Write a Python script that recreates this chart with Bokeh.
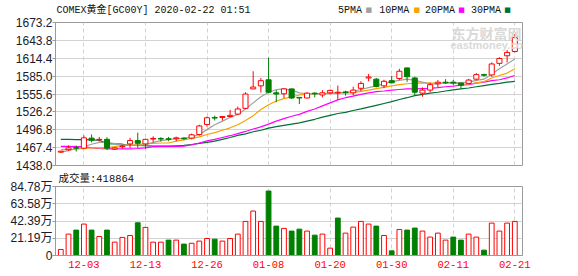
from bokeh.plotting import figure
from bokeh.layouts import column
from bokeh.models import FixedTicker, Label, ColumnDataSource, Range1d
from bokeh.embed import file_html
from bokeh.resources import INLINE

dates = ["11-28", "11-29", "12-02", "12-03", "12-04", "12-05", "12-06", "12-09", "12-10", "12-11",
         "12-12", "12-13", "12-16", "12-17", "12-18", "12-19", "12-20", "12-23", "12-24", "12-26",
         "12-27", "12-30", "12-31", "01-02", "01-03", "01-06", "01-07", "01-08", "01-09", "01-10",
         "01-13", "01-14", "01-15", "01-16", "01-17", "01-20", "01-21", "01-22", "01-23", "01-24",
         "01-27", "01-28", "01-29", "01-30", "01-31", "02-03", "02-04", "02-05", "02-06", "02-07",
         "02-10", "02-11", "02-12", "02-13", "02-14", "02-17", "02-18", "02-19", "02-20", "02-21"]

opens = [1460, 1464, 1467.5, 1466.5, 1483, 1480, 1481, 1465, 1469, 1473.5,
         1479, 1473.5, 1481.5, 1482.5, 1482, 1482, 1483, 1483, 1489, 1505.5,
         1517, 1517, 1518.5, 1522.5, 1532, 1564, 1569, 1579, 1557.5, 1556,
         1564, 1550, 1549, 1557, 1554, 1557.5, 1557.5, 1559, 1557.5, 1565,
         1582, 1580, 1569, 1577.5, 1581, 1598.5, 1582, 1557, 1562, 1572.5,
         1575, 1575, 1573.5, 1573, 1580, 1587.5, 1587, 1606, 1618.5, 1625.5]
highs = [1462, 1471, 1471, 1487.5, 1489, 1485, 1484.5, 1468, 1472, 1483.5,
         1492, 1482, 1486, 1484.5, 1485, 1485.5, 1484.5, 1490.5, 1505, 1518.5,
         1520, 1519, 1529.5, 1535, 1558.5, 1593, 1582, 1615.5, 1562, 1564.5,
         1564.5, 1550.5, 1558.5, 1558.5, 1562, 1563, 1569.5, 1561, 1567.5, 1576.5,
         1588.5, 1582, 1579, 1585.5, 1597, 1599, 1584, 1566.5, 1574.5, 1578.5,
         1580, 1578.5, 1574, 1580.5, 1590, 1589, 1607.5, 1616, 1628, 1654]
lows = [1459, 1462, 1461, 1465, 1476, 1477.5, 1463.5, 1463.5, 1466, 1467,
        1467, 1465.5, 1476, 1477.5, 1478, 1478, 1480, 1481, 1487, 1502,
        1512, 1512, 1517.5, 1521.5, 1531, 1563.5, 1558, 1557, 1542, 1549,
        1547.5, 1539, 1548.5, 1550, 1550, 1555, 1546, 1553, 1553, 1560,
        1576.5, 1566.5, 1565.5, 1573, 1578.5, 1575.5, 1553, 1551, 1558.5, 1566.5,
        1572, 1570.5, 1564, 1572, 1578, 1584, 1584, 1602, 1607.5, 1624]
closes = [1461.5, 1467, 1466.5, 1483.5, 1479.5, 1481, 1466.5, 1467, 1470, 1479,
          1474.5, 1481, 1482.5, 1481.5, 1481, 1483.5, 1482, 1488.5, 1503, 1516.5,
          1516, 1518.5, 1520.5, 1531, 1555.5, 1567, 1577.5, 1558.5, 1555.5, 1564,
          1549, 1549, 1557, 1556, 1557.5, 1561.5, 1558.5, 1558, 1562, 1573,
          1583.5, 1568, 1576.5, 1574, 1593, 1584, 1558.5, 1562, 1571, 1575,
          1574, 1573.5, 1570, 1578.5, 1587.5, 1586.5, 1605, 1614, 1624, 1648.5]

# volume in units of 10,000 (万)
volumes = [7.4, 26.3, 31.2, 38.6, 31.2, 23.4, 31.2, 16.4, 22.2, 24.6,
           40.2, 34.5, 16.4, 16.4, 18.9, 18.9, 14.0, 15.0, 17.7, 20.9,
           20.1, 17.7, 20.9, 26.3, 41.9, 54.6, 41.9, 79.2, 36.1, 33.3,
           30.0, 32.4, 30.0, 25.0, 26.3, 9.0, 46.0, 27.5, 34.9, 41.9,
           38.6, 36.1, 24.6, 5.7, 32.0, 31.2, 33.7, 30.0, 22.6, 27.5,
           18.9, 22.6, 18.9, 26.3, 22.6, 6.6, 39.8, 30.0, 39.8, 41.8864]
vol_up = [1, 1, 0, 1, 0, 1, 0, 1, 1, 1,
          0, 1, 1, 1, 0, 1, 0, 1, 1, 1,
          0, 1, 1, 1, 1, 1, 1, 0, 0, 1,
          0, 0, 1, 0, 1, 1, 0, 1, 1, 1,
          1, 0, 1, 0, 1, 0, 0, 1, 1, 1,
          1, 0, 0, 1, 1, 0, 1, 1, 1, 1]

ma5 = [1460, 1462.5, 1465.5, 1469, 1473, 1476, 1476, 1474, 1472, 1471,
       1471, 1472, 1476, 1479, 1480.5, 1482, 1482.5, 1485, 1489, 1497,
       1505, 1511, 1517, 1522, 1531, 1541, 1551, 1558, 1563, 1564,
       1562, 1557.5, 1556, 1555.5, 1556, 1556.5, 1557.5, 1558.5, 1560, 1563,
       1566, 1569, 1572.5, 1576, 1578, 1580, 1578, 1575, 1572.5, 1572,
       1574.5, 1574.5, 1574.5, 1575, 1578, 1580, 1588, 1597, 1605, 1613]
ma10 = [1464, 1464.5, 1465, 1466, 1467, 1467, 1467, 1469, 1471, 1472,
        1472, 1474, 1474.5, 1475, 1475, 1478, 1480, 1482.5, 1485, 1489,
        1492, 1496, 1500, 1505, 1512, 1520, 1530, 1538, 1544, 1548,
        1551, 1554, 1555, 1556, 1556.5, 1556.5, 1557, 1557, 1558, 1560,
        1562, 1564.5, 1566.5, 1569, 1571, 1572.5, 1573.5, 1574, 1573.5, 1573.5,
        1573.5, 1573.5, 1572.5, 1572, 1574, 1576, 1582, 1586, 1590, 1597]
ma20 = [1469.5, 1469.5, 1469, 1468.5, 1467, 1466, 1465.5, 1465.5, 1465.5, 1465.5,
        1466, 1467, 1469, 1469.5, 1469.5, 1469.5, 1470, 1472, 1475, 1478.5,
        1481, 1484, 1487, 1490.5, 1494, 1498, 1501.5, 1506, 1511, 1515,
        1519, 1522, 1527, 1531, 1536, 1541, 1546, 1549.5, 1552, 1555,
        1557.5, 1559.5, 1560.5, 1562, 1563, 1564, 1564, 1564.5, 1565, 1566,
        1567.5, 1568.5, 1570, 1571, 1573.5, 1575, 1577.5, 1579, 1582, 1586]
ma30 = [1481, 1481, 1480.5, 1480.5, 1480, 1479.5, 1474, 1473.5, 1473, 1471,
        1471, 1470.5, 1470, 1470, 1470, 1470.5, 1471, 1472.5, 1474.5, 1476,
        1478, 1481, 1484, 1487.5, 1490, 1493.5, 1496, 1499.5, 1502, 1504,
        1506, 1508, 1511, 1514, 1517.5, 1520.5, 1523.5, 1525.5, 1528.5, 1531,
        1534, 1537, 1540, 1543, 1546.5, 1549.5, 1553, 1555, 1557, 1558.5,
        1560.5, 1562.5, 1564, 1565.5, 1567.5, 1569.5, 1571.5, 1573, 1575, 1576.5]

price_ticks = [1438.0, 1467.4, 1496.8, 1526.2, 1555.6, 1585.0, 1614.4, 1643.8, 1673.2]
vol_ticks = [0, 21.19, 42.39, 63.58, 84.78]
vol_tick_labels = ["0", "21.19万", "42.39万", "63.58万", "84.78万"]
date_ticks = ["12-03", "12-13", "12-26", "01-08", "01-20", "01-30", "02-11", "02-21"]

title_text = "COMEX黄金[GC00Y] 2020-02-22 01:51"
vol_text = "成交量:418864"
ma_names = ["5PMA", "10PMA", "20PMA", "30PMA"]

RED = "#ff0000"
GREEN = "#008000"
MA_COLORS = ["#a0a0a0", "#f5a300", "#ff00ff", "#006f35"]
GRID = "#d2d2d2"
FRAME = "#9a9a9a"
MONO = "Liberation Mono, Noto Sans CJK SC"
TXT = "#111111"

idx = list(range(len(dates)))
up = [c >= o for o, c in zip(opens, closes)]
csrc = ColumnDataSource(dict(
    x=idx, h=highs, l=lows,
    top=[max(o, c) for o, c in zip(opens, closes)],
    bot=[min(o, c) for o, c in zip(opens, closes)],
    col=[RED if u else GREEN for u in up],
    fill=["#ffffff" if u else GREEN for u in up],
))
vsrc = ColumnDataSource(dict(
    x=idx, v=volumes,
    col=[RED if u else GREEN for u in vol_up],
    fill=["#ffffff" if u else GREEN for u in vol_up],
))
tick_pos = [dates.index(d) for d in date_ticks]

x_range = Range1d(-0.69, 60.0)

# ---------------- header strip (its frame is aligned with the panels below) ----------------
ph = figure(width=578, height=16, x_range=Range1d(0, 467), y_range=Range1d(0, 16),
            x_axis_location=None, y_axis_location=None,
            output_backend="svg", toolbar_location=None,
            min_border_left=55, min_border_right=56, min_border_top=0, min_border_bottom=0)
ph.grid.visible = False
ph.outline_line_color = None
ph.add_layout(Label(x=1, y=6, x_units="screen", y_units="screen", text=title_text,
                    text_font=MONO, text_font_size="10px", text_color=TXT,
                    text_baseline="middle"))
leg_x = [282.5, 323.7, 369.6, 415.6]
sq_x = [310.0, 358.0, 402.7, 448.7]
for name, colr, lx, sx in zip(ma_names, MA_COLORS, leg_x, sq_x):
    ph.add_layout(Label(x=lx, y=6, x_units="screen", y_units="screen", text=name,
                        text_font=MONO, text_font_size="10px", text_color=TXT,
                        text_baseline="middle"))
    ph.add_layout(Label(x=sx, y=6.5, x_units="screen", y_units="screen",
                        text="■", text_font="DejaVu Sans", text_font_size="7px",
                        text_color=colr, text_baseline="middle"))

# ---------------- price panel ----------------
p1 = figure(width=578, height=156, x_range=x_range, y_range=Range1d(1438.0, 1673.2),
            output_backend="svg", toolbar_location=None,
            min_border_left=55, min_border_right=56, min_border_top=6, min_border_bottom=7)
p1.xaxis.visible = False
p1.yaxis.ticker = FixedTicker(ticks=price_ticks)
p1.yaxis.major_label_overrides = {t: f"{t:.1f}" for t in price_ticks}
ax = p1.yaxis[0]
ax.axis_line_color = FRAME
ax.major_tick_line_color = FRAME
ax.major_tick_out = 3
ax.major_tick_in = 0
ax.minor_tick_line_color = None
ax.major_label_standoff = 0
ax.major_label_text_font = "Liberation Sans"
ax.major_label_text_font_size = "12px"
ax.major_label_text_color = "#1a1a2a"
p1.ygrid.ticker = FixedTicker(ticks=price_ticks)
p1.ygrid.grid_line_color = GRID
p1.xgrid.ticker = FixedTicker(ticks=tick_pos)
p1.xgrid.grid_line_color = GRID
p1.xgrid.grid_line_dash = "4 3"
p1.outline_line_color = FRAME

# watermark (inside the frame)
p1.add_layout(Label(x=396, y=133, x_units="screen", y_units="screen", text="东方财富网",
                    text_font="Noto Sans CJK SC", text_font_size="14px",
                    text_font_style="bold", text_color="#d9d9d9", text_baseline="middle"))
p1.add_layout(Label(x=395, y=121, x_units="screen", y_units="screen", text="eastmoney.com",
                    text_font="Liberation Sans", text_font_size="11px",
                    text_font_style="bold", text_color="#d9d9d9", text_baseline="middle"))

for ma, colr in zip([ma30, ma20, ma10, ma5], MA_COLORS[::-1]):
    p1.line(idx, ma, line_color=colr, line_width=1.2)

p1.segment(x0="x", x1="x", y0="l", y1="h", line_color="col", line_width=1, source=csrc)
p1.vbar(x="x", width=0.66, top="top", bottom="bot", fill_color="fill", line_color="col",
        line_width=1, source=csrc)

# ---------------- volume panel ----------------
p2 = figure(width=578, height=104, x_range=x_range, y_range=Range1d(0, 84.78),
            output_backend="svg", toolbar_location=None,
            min_border_left=55, min_border_right=56, min_border_top=14, min_border_bottom=21)
p2.title.text = vol_text
p2.title.align = "left"
p2.title.offset = 3
p2.title.standoff = 0
p2.title.vertical_align = "top"
p2.title.text_baseline = "top"
p2.title.text_font = MONO
p2.title.text_font_size = "10.5px"
p2.title.text_font_style = "normal"
p2.title.text_color = TXT
p2.yaxis.ticker = FixedTicker(ticks=vol_ticks)
p2.yaxis.major_label_overrides = dict(zip(vol_ticks, vol_tick_labels))
ax = p2.yaxis[0]
ax.axis_line_color = FRAME
ax.major_tick_line_color = FRAME
ax.major_tick_out = 3
ax.major_tick_in = 0
ax.minor_tick_line_color = None
ax.major_label_standoff = 0
ax.major_label_text_font = "Liberation Sans, Noto Sans CJK SC"
ax.major_label_text_font_size = "12px"
ax.major_label_text_color = "#1a1a2a"
xa = p2.xaxis[0]
xa.ticker = FixedTicker(ticks=tick_pos)
xa.major_label_overrides = {p: d for p, d in zip(tick_pos, date_ticks)}
xa.axis_line_color = FRAME
xa.major_tick_line_color = None
xa.major_tick_out = 0
xa.major_tick_in = 0
xa.minor_tick_line_color = None
xa.major_label_standoff = 5
xa.major_label_text_font = "Liberation Mono"
xa.major_label_text_font_size = "10.5px"
xa.major_label_text_color = RED
p2.ygrid.ticker = FixedTicker(ticks=vol_ticks)
p2.ygrid.grid_line_color = GRID
p2.xgrid.ticker = FixedTicker(ticks=tick_pos)
p2.xgrid.grid_line_color = GRID
p2.xgrid.grid_line_dash = "4 3"
p2.outline_line_color = FRAME

p2.vbar(x="x", width=0.62, top="v", bottom=0, fill_color="fill", line_color="col",
        line_width=1, source=vsrc)

layout = column(ph, p1, p2, spacing=0)
open("out.html", "w").write(file_html(layout, INLINE))
